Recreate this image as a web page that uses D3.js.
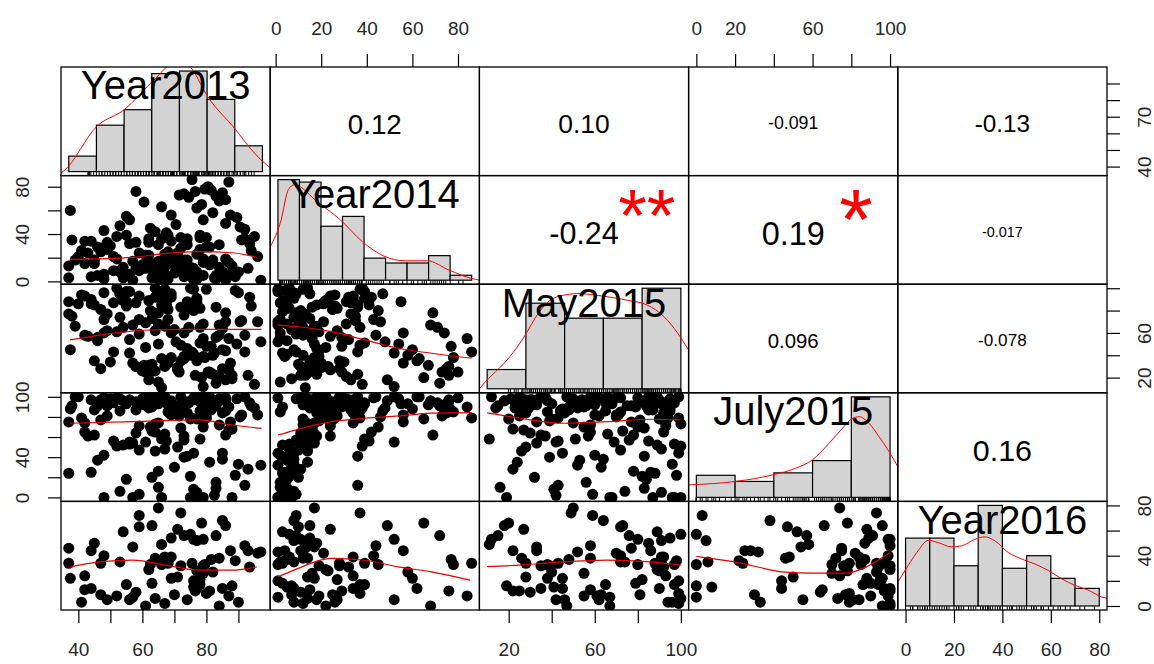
<!DOCTYPE html>
<html>
<head>
<meta charset="utf-8">
<title>chart.Correlation</title>
<script src="https://cdn.jsdelivr.net/npm/d3@7/dist/d3.min.js"></script>
<style>
  body { margin: 0; background: #fff; }
  svg text { font-family: "Liberation Sans", Arial, sans-serif; }
</style>
</head>
<body>
<div id="chart"></div>
<script>
// ---- data ----
var varNames = ["Year2013", "Year2014", "May2015", "July2015", "Year2016"];

// one row per observation (same order in every array); null = missing
var year2013 = [37.5, 58, 76.5, 73, 79.5, 80.5, 87, 86, 77, 69, 56, 55, 86, 90.5, 87.5, 89.5, 83, 85, 81.5, 74.5, 78.5, 66, 62.5, 70.5, 48, 64, 82, 71.5, 92, 60.5, 84, 53, 75.5, 67.5, 79,
  68, 45, 77, 62, 84, 55, 71, 39, 66, 92, 58, 74, 49, 81, 63, 78,
  53, 79, 65, 44, 88, 61, 75, 57, 38, 69, 83, 47, 72, 85, 95, 67,
  76, 51, 64, 86, 42, 73, 59, 68, 93, 48, 78, 62, 54, 80, 37, 66,
  71, 89, 56, 63, 46, 77, 65, 52, 74, 85, 61, 41, 79, 69, 58, 97,
  64, 50, 73, 82, 67, 43, 76, 82.5, 55, 87, 70, 40, 66, 91, 72, 59,
  63, 78, 48, 69, 84, 53, 75, 62, 46, 80, 67, 57, 94, 71, 65, 44,
  74, 56, 81, 61, 37, 68, 79, 52, 88, 64, 47, 73, 93.5, 86, 59, 67,
  77, 42, 62, 90, 54, 72, 83, 65, 49, 76, 60, 96, 51, 68, 75, 45];
var year2014 = [60, 76, 76, 74, 78, 80, 84, 69, 62, 56, 52, 55, 49, 46, 56, 54, 72, 75, 77, 71, 65, 63, 45, 48, 43, 42, 58, 73, 44, 67, 68, 47, 86, 41, 52,
  2, 15, 8, 33, 12, 5, 24, 18, 1, 36, 11, 31, 27, 14, 3, 39,
  9, 19, 31, 4, 13, 22, 6, 17, 35, 34, 2, 28, 16, 8, 38, 12,
  5, 21, 14, 1, 34, 18, 9, 25, 11, 6, 37, 16, 3, 29, 13, 36,
  20, 4, 32, 15, 29, 23, 2, 19, 36, 8, 12, 26, 5, 17, 33, 1,
  14, 30, 9, 18, 6, 24, 11, 3, 39, 16, 7, 21, 13, 35, 37, 24,
  10, 27, 2, 15, 31, 8, 12, 22, 5, 37, 17, 1, 26, 14, 9, 34,
  18, 6, 29, 11, 3, 20, 16, 38, 7, 13, 25, 4, 32, 19, 10, 23,
  2, 15, 36, 8, 12, 28, 5, 17, 33, 1, 14, 21, 9, 39, 6, 18];
var may2015 = [45, 30, 22, 60, 38, 25, 55, 78, 35, 60, 42, 88, 18, 70, 33, 50, 15, 28, 48, 65, 20, 37, 80, 52, 72, 92, 40, 25, 58, 31, 67, 95, 43, 85, 12,
  72, 35, 91, 18, 58, 84, 27, 66, 97, 43, 30, 88, 62, 24, 79, 51,
  95, 39, 68, 86, 22, 47, 100, 33, 75, 92, 56, 28, 83, 64, 14, 99,
  41, 87, 26, 70, 93, 37, 59, 81, 22, 96, 65, 31, 89, 48, 77, 85,
  29, 98, 54, 73, 56, 90, 16, 61, 83, 45, 25, 94, 68, 38, 87, 52,
  100, 34, 76, 23, 91, 57, 80, 42, 97, 27, 63, 86, 11, 71, 49, 93,
  32, 82, 60, 95, 21, 74, 40, 89, 53, 99, 66, 67, 84, 28, 78, 90,
  46, 97, 25, 69, 88, 33, 55, 100, 19, 62, 81, 39, 92, 44, 72, 30,
  87, 58, 23, 96, 65, 35, 83, 50, 77, 99, 26, 70, 43, 91, 82, 85];
var july2015 = [88, 95, 97, 92, 85, 99, 90, 62, 100, 82, 55, 93, 96, 80, 75, 98, 91, 84, 87, 94, 78, 100, 70, 89, 99, 65, 93, 81, 100, 92, 96, 86, 79, 56, 100,
  85, 62, 5, 96, 72, 18, 88, 100, 0, 12, 64, 95, 81, 35, 90, 58,
  98, 76, 93, 25, 68, 100, 0, 54, 91, 84, 15, 97, 69, 38, 89, 100,
  8, 94, 46, 99, 74, 61, 3, 95, 28, 0, 86, 97, 52, 90, 75, 100,
  88, 22, 97, 66, 91, 78, 10, 99, 41, 44, 92, 79, 0, 96, 87, 32,
  73, 98, 57, 90, 48, 61, 99, 2, 94, 67, 30, 100, 58, 82, 93, 71,
  20, 95, 42, 89, 98, 6, 78, 100, 37, 79, 63, 0, 91, 50, 26, 97,
  84, 53, 100, 55, 24, 92, 70, 51, 0, 99, 77, 40, 94, 86, 47, 97,
  0, 65, 89, 33, 96, 100, 9, 74, 91, 44, 98, 82, 56, 93, 21, 87];
var year2016 = [22, null, 12, null, 33, null, 8, null, 14, null, 5, null, 64, null, 44, null, 56, null, 37, null, 66, null, 33, null, 40, null, 27, null, 48, null, 0, null, 34, null, 53,
  35, null, 52, null, 38, null, 61, null, 33, null, 11, null, 5, null, 18, null,
  null, 32, null, 44, null, 0, 57, 47, null, 39, null, 34, null, 68, null, 2,
  15, null, 38, null, 24, null, 72, null, 44, null, 17, null, 59, null, 46, null,
  null, 36, null, 64, null, 28, null, 8, null, 14, null, 3, null, 22, null, 43,
  6, null, 56, null, 39, null, 53, null, 17, null, 9, null, 49, null, 74, null,
  null, 21, null, 54, null, 35, null, 29, null, 10, null, 7, null, 23, null, 14,
  5, null, 12, null, 34, null, 26, null, 16, null, 9, null, 31, null, 63, null,
  null, 13, null, 3, null, 32, null, 78, null, 20, null, 42, null, 34, null, 50];

// data range of each variable (pairs() pads it by 4%)
var varRanges = [[37, 97.5], [1, 86], [10, 100], [0, 100], [0, 80]];

// histograms on the diagonal (relative bar heights)
var histBreaks2013 = [30, 40, 50, 60, 70, 80, 90, 100];
var histCounts2013 = [6, 18, 24, 38, 39, 28, 10];
var histBreaks2014 = [0, 10, 20, 30, 40, 50, 60, 70, 80, 90];
var histCounts2014 = [41, 40, 22, 26, 9, 7, 7, 10, 2];
var histBreaksMay = [0, 20, 40, 60, 80, 100];
var histCountsMay = [9, 40, 33, 33, 47];
var histBreaksJuly = [0, 20, 40, 60, 80, 100];
var histCountsJuly = [18, 13, 20, 30, 82];
var histBreaks2016 = [0, 10, 20, 30, 40, 50, 60, 70, 80];
var histCounts2016 = [27, 27, 16, 40, 15, 20, 11, 7];

// density curves, in the same units as the bar heights
var density2013 = [[27.2, -0.5], [27.9, 0], [40.4, 17.8], [50.1, 24], [60.1, 34.8], [70.2, 43.5], [74, 40.5], [80.2, 29.1], [90.3, 16.3], [96, 8.5], [101.4, 2.7], [102.8, 1.5]];
var density2014 = [[-3.6, 13.6], [1.5, 24.6], [4.8, 36.9], [7.6, 38.9], [18.7, 31.6], [29, 24.6], [39.2, 15.7], [49.3, 9.8], [59.2, 7.9], [69.4, 7.9], [79.5, 4.1], [90, 0.7], [93.6, 0]];
var densityMay = [[-4, 0], [-3, 1.1], [11.7, 15], [18.7, 23.7], [26.5, 35.4], [32.5, 41.4], [39.5, 43.7], [46.4, 44.5], [59.7, 43.3], [72.3, 41.4], [82.7, 39.1], [91.4, 33.6], [98.3, 26.1], [104, 18.1]];
var densityJuly = [[-4, 10.2], [20.3, 13], [39.3, 18.3], [51.3, 23.8], [59.9, 30.5], [68.5, 44.1], [75.4, 56.3], [80.6, 64.4], [84, 65.8], [89.2, 60.3], [94.3, 49.5], [99.5, 37.3], [104, 25]];
var density2016 = [[-3.2, 9.5], [1.1, 16.1], [5.2, 22], [9.4, 26.1], [13.5, 25.2], [19, 23.5], [23.1, 23.9], [28.6, 26.5], [32.8, 27.5], [36.9, 25.9], [42.4, 21.3], [47.9, 18.7], [53.4, 16.7], [59, 14.1], [64.5, 10.8], [70, 8.2], [75.5, 6.3], [81, 3.6], [83.2, 3]];

// upper panels: correlation text and significance stars
var corPairs = [[0, 1], [0, 2], [0, 3], [0, 4], [1, 2], [1, 3], [1, 4], [2, 3], [2, 4], [3, 4]];
var corValues = [0.12, 0.10, -0.091, -0.13, -0.24, 0.19, -0.017, 0.096, -0.078, 0.16];
var corLabels = ["0.12", "0.10", "-0.091", "-0.13", "-0.24", "0.19", "-0.017", "0.096", "-0.078", "0.16"];
var corStars = ["", "", "", "", "**", "*", "", "", "", ""];

// lower panels: lowess lines (x = column variable, y = row variable)
var smooth13_14 = [[37.4, 18.6], [57, 20.3], [67.4, 23.7], [77.7, 25.1], [88, 24.2], [95.7, 20.3]];
var smooth13_May = [[37.4, 53.7], [46.7, 58.1], [62.1, 62.6], [72.5, 63.2], [87.9, 63.2], [97.2, 63.2]];
var smooth13_July = [[37.4, 73.7], [57, 75.3], [77.6, 77], [87.9, 72], [97.2, 68.7]];
var smooth13_16 = [[37.4, 31.1], [46.7, 35.1], [57, 36.4], [67.3, 32.5], [77.6, 28.5], [87.9, 28.5], [95.7, 31.1]];
var smooth14_May = [[1, 67], [9.9, 65.5], [24.5, 61.1], [39.2, 53.7], [53.8, 46.3], [68.4, 41.8], [86, 37.3]];
var smooth14_July = [[1, 62], [9.9, 67.7], [24.5, 75.3], [39.2, 78.7], [53.8, 81], [68.4, 83.7], [86, 84.3]];
var smooth14_16 = [[1, 23.2], [9.9, 29.9], [17.2, 35.1], [24.5, 37.8], [39.2, 36.4], [53.8, 31.1], [68.4, 27.2], [85.3, 20.6]];
var smoothMay_July = [[10, 84], [25.3, 78.7], [45.5, 73.7], [65.6, 75.3], [85.8, 77.7], [100, 77]];
var smoothMay_16 = [[10, 31.3], [25.3, 32.5], [45.5, 35.1], [65.6, 36.4], [85.8, 35.1], [100, 32.5]];
var smoothJuly_16 = [[0, 39.4], [20.3, 34.9], [46.1, 26.9], [59.9, 26.1], [77.1, 26.1], [87.5, 30.9], [100, 42.5]];

// axis ticks and the labels R kept
var ticks2013 = [40, 50, 60, 70, 80, 90];
var ticks2014 = [0, 20, 40, 60, 80];
var ticksMay = [20, 40, 60, 80, 100];
var ticksJuly = [0, 20, 40, 60, 80, 100];
var ticks2016 = [0, 20, 40, 60, 80];
var xLabels2013 = [40, 60, 80], xLabels2014 = [0, 20, 40, 60, 80], xLabelsMay = [20, 60, 100], xLabelsJuly = [0, 20, 60, 100], xLabels2016 = [0, 20, 40, 60, 80];
var yLabels2013 = [40, 70], yLabels2014 = [0, 40, 80], yLabelsMay = [20, 60], yLabelsJuly = [0, 40, 100], yLabels2016 = [0, 40, 80];

// ---- layout ----
var W = 1154, H = 664;
var gridLeft = 61, gridTop = 67, gridRight = 1107, gridBottom = 610;
var nv = varNames.length;
var pw = (gridRight - gridLeft) / nv, ph = (gridBottom - gridTop) / nv;

var columns = [year2013, year2014, may2015, july2015, year2016];
var histBreaks = [histBreaks2013, histBreaks2014, histBreaksMay, histBreaksJuly, histBreaks2016];
var histCounts = [histCounts2013, histCounts2014, histCountsMay, histCountsJuly, histCounts2016];
var densities = [density2013, density2014, densityMay, densityJuly, density2016];
var smoothByPanel = {
  "1-0": smooth13_14, "2-0": smooth13_May, "3-0": smooth13_July, "4-0": smooth13_16,
  "2-1": smooth14_May, "3-1": smooth14_July, "4-1": smooth14_16,
  "3-2": smoothMay_July, "4-2": smoothMay_16, "4-3": smoothJuly_16
};
var axisTicks = [ticks2013, ticks2014, ticksMay, ticksJuly, ticks2016];
var xLabels = [xLabels2013, xLabels2014, xLabelsMay, xLabelsJuly, xLabels2016];
var yLabels = [yLabels2013, yLabels2014, yLabelsMay, yLabelsJuly, yLabels2016];

function padded(r) {
  var d = r[1] - r[0];
  return [r[0] - 0.04 * d, r[1] + 0.04 * d];
}

var xScales = varRanges.map(function (r) { return d3.scaleLinear().domain(padded(r)).range([0, pw]); });
var yScales = varRanges.map(function (r) { return d3.scaleLinear().domain(padded(r)).range([ph, 0]); });

var svg = d3.select("#chart").append("svg")
    .attr("width", W)
    .attr("height", H);
svg.append("rect").attr("width", W).attr("height", H).attr("fill", "#fff");

svg.append("defs").append("clipPath")
    .attr("id", "panelClip")
    .append("rect")
    .attr("width", pw)
    .attr("height", ph);

function drawHist(inner, g, k) {
  var br = histBreaks[k], cnt = histCounts[k];
  var hx = d3.scaleLinear().domain(padded([br[0], br[br.length - 1]])).range([0, pw]);
  var hy = d3.scaleLinear().domain(padded([0, d3.max(cnt)])).range([ph, 0]);

  inner.selectAll(".bar")
      .data(cnt)
      .enter()
      .append("rect")
      .attr("class", "bar")
      .attr("x", function (d, b) { return hx(br[b]); })
      .attr("width", function (d, b) { return hx(br[b + 1]) - hx(br[b]); })
      .attr("y", function (d) { return hy(d); })
      .attr("height", function (d) { return hy(0) - hy(d); })
      .attr("fill", "#d3d3d3")
      .attr("stroke", "#000")
      .attr("stroke-width", 1.2);

  var line = d3.line()
      .x(function (d) { return hx(d[0]); })
      .y(function (d) { return hy(d[1]); })
      .curve(d3.curveMonotoneX);
  inner.append("path")
      .attr("d", line(densities[k]))
      .attr("fill", "none")
      .attr("stroke", "#ff0000")
      .attr("stroke-width", 1);

  // rug
  inner.selectAll(".rug")
      .data(columns[k].filter(function (v) { return v !== null; }))
      .enter()
      .append("line")
      .attr("class", "rug")
      .attr("x1", function (d) { return hx(d); })
      .attr("x2", function (d) { return hx(d); })
      .attr("y1", ph)
      .attr("y2", ph - 0.035 * ph)
      .attr("stroke", "#000")
      .attr("stroke-width", 1);

  var fs = 40;
  g.append("text")
      .attr("x", pw / 2)
      .attr("y", ph * (1 - 0.8333) + 0.358 * fs)
      .attr("text-anchor", "middle")
      .attr("font-size", fs)
      .attr("fill", "#000")
      .text(varNames[k]);
}

function drawScatter(inner, i, j) {
  var xs = xScales[j], ys = yScales[i];
  var rows = d3.range(columns[j].length).filter(function (k) {
    return columns[j][k] !== null && columns[i][k] !== null;
  });
  inner.selectAll(".pt")
      .data(rows)
      .enter()
      .append("circle")
      .attr("class", "pt")
      .attr("cx", function (k) { return xs(columns[j][k]); })
      .attr("cy", function (k) { return ys(columns[i][k]); })
      .attr("r", 5.5)
      .attr("fill", "#000");

  var line = d3.line()
      .x(function (d) { return xs(d[0]); })
      .y(function (d) { return ys(d[1]); })
      .curve(d3.curveMonotoneX);
  inner.append("path")
      .attr("d", line(smoothByPanel[i + "-" + j]))
      .attr("fill", "none")
      .attr("stroke", "#e00000")
      .attr("stroke-width", 1.2);
}

function drawCor(g, i, j) {
  var c = corPairs.findIndex(function (p) { return p[0] === i && p[1] === j; });
  var r = corValues[c];
  var t = g.append("text")
      .attr("text-anchor", "middle")
      .attr("font-size", 100)
      .attr("fill", "#000")
      .text(corLabels[c]);
  // R: cex = 0.8 / strwidth(txt), number drawn at cex * (|r| + 0.3) / 1.3
  var fullSize = 0.8 * pw / (t.node().getComputedTextLength() / 100);
  var fs = fullSize * (Math.abs(r) + 0.3) / 1.3;
  t.attr("font-size", fs)
      .attr("x", pw / 2)
      .attr("y", ph / 2 + 0.46 * fs);

  if (corStars[c]) {
    g.append("text")
        .attr("text-anchor", "middle")
        .attr("font-size", fullSize)
        .attr("fill", "#ff0000")
        .attr("x", 0.8 * pw)
        .attr("y", 0.2 * ph + 0.6 * fullSize)
        .text(corStars[c]);
  }
}

for (var i = 0; i < nv; i++) {
  for (var j = 0; j < nv; j++) {
    var g = svg.append("g")
        .attr("transform", "translate(" + (gridLeft + j * pw) + "," + (gridTop + i * ph) + ")");
    var inner = g.append("g").attr("clip-path", "url(#panelClip)");
    if (i === j) drawHist(inner, g, i);
    else if (i > j) drawScatter(inner, i, j);
    else drawCor(g, i, j);
    g.append("rect")
        .attr("width", pw)
        .attr("height", ph)
        .attr("fill", "none")
        .attr("stroke", "#000")
        .attr("stroke-width", 1.3);
  }
}

// ---- axes (alternating sides, like pairs()) ----
var tickLen = 13, labelSize = 19, labelColor = "#262626";

function styleAxis(ax) {
  ax.attr("font-size", labelSize).attr("font-family", null);
  ax.select(".domain").remove();
  ax.selectAll(".tick line").attr("stroke", "#000").attr("stroke-width", 1.2);
  ax.selectAll(".tick text").attr("fill", labelColor);
}

function labelFormat(labs) {
  return function (v) { return labs.indexOf(v) >= 0 ? String(v) : ""; };
}

for (var k = 0; k < nv; k++) {
  var onTop = (k % 2 === 1);
  var xa = (onTop ? d3.axisTop(xScales[k]) : d3.axisBottom(xScales[k]))
      .tickValues(axisTicks[k])
      .tickSize(tickLen)
      .tickSizeOuter(0)
      .tickFormat(labelFormat(xLabels[k]));
  var gx = svg.append("g")
      .attr("transform", "translate(" + (gridLeft + k * pw) + "," + (onTop ? gridTop : gridBottom) + ")")
      .call(xa);
  styleAxis(gx);
  gx.selectAll(".tick text")
      .attr("dy", null)
      .attr("y", onTop ? -32 : 46);

  var onLeft = (k % 2 === 1);
  var ya = (onLeft ? d3.axisLeft(yScales[k]) : d3.axisRight(yScales[k]))
      .tickValues(axisTicks[k])
      .tickSize(tickLen)
      .tickSizeOuter(0)
      .tickFormat(labelFormat(yLabels[k]));
  var gy = svg.append("g")
      .attr("transform", "translate(" + (onLeft ? gridLeft : gridRight) + "," + (gridTop + k * ph) + ")")
      .call(ya);
  styleAxis(gy);
  gy.selectAll(".tick text")
      .attr("dy", null)
      .attr("x", 0)
      .attr("y", onLeft ? -32.5 : 44)
      .attr("text-anchor", "middle")
      .attr("transform", "rotate(-90)");
}
</script>
</body>
</html>
